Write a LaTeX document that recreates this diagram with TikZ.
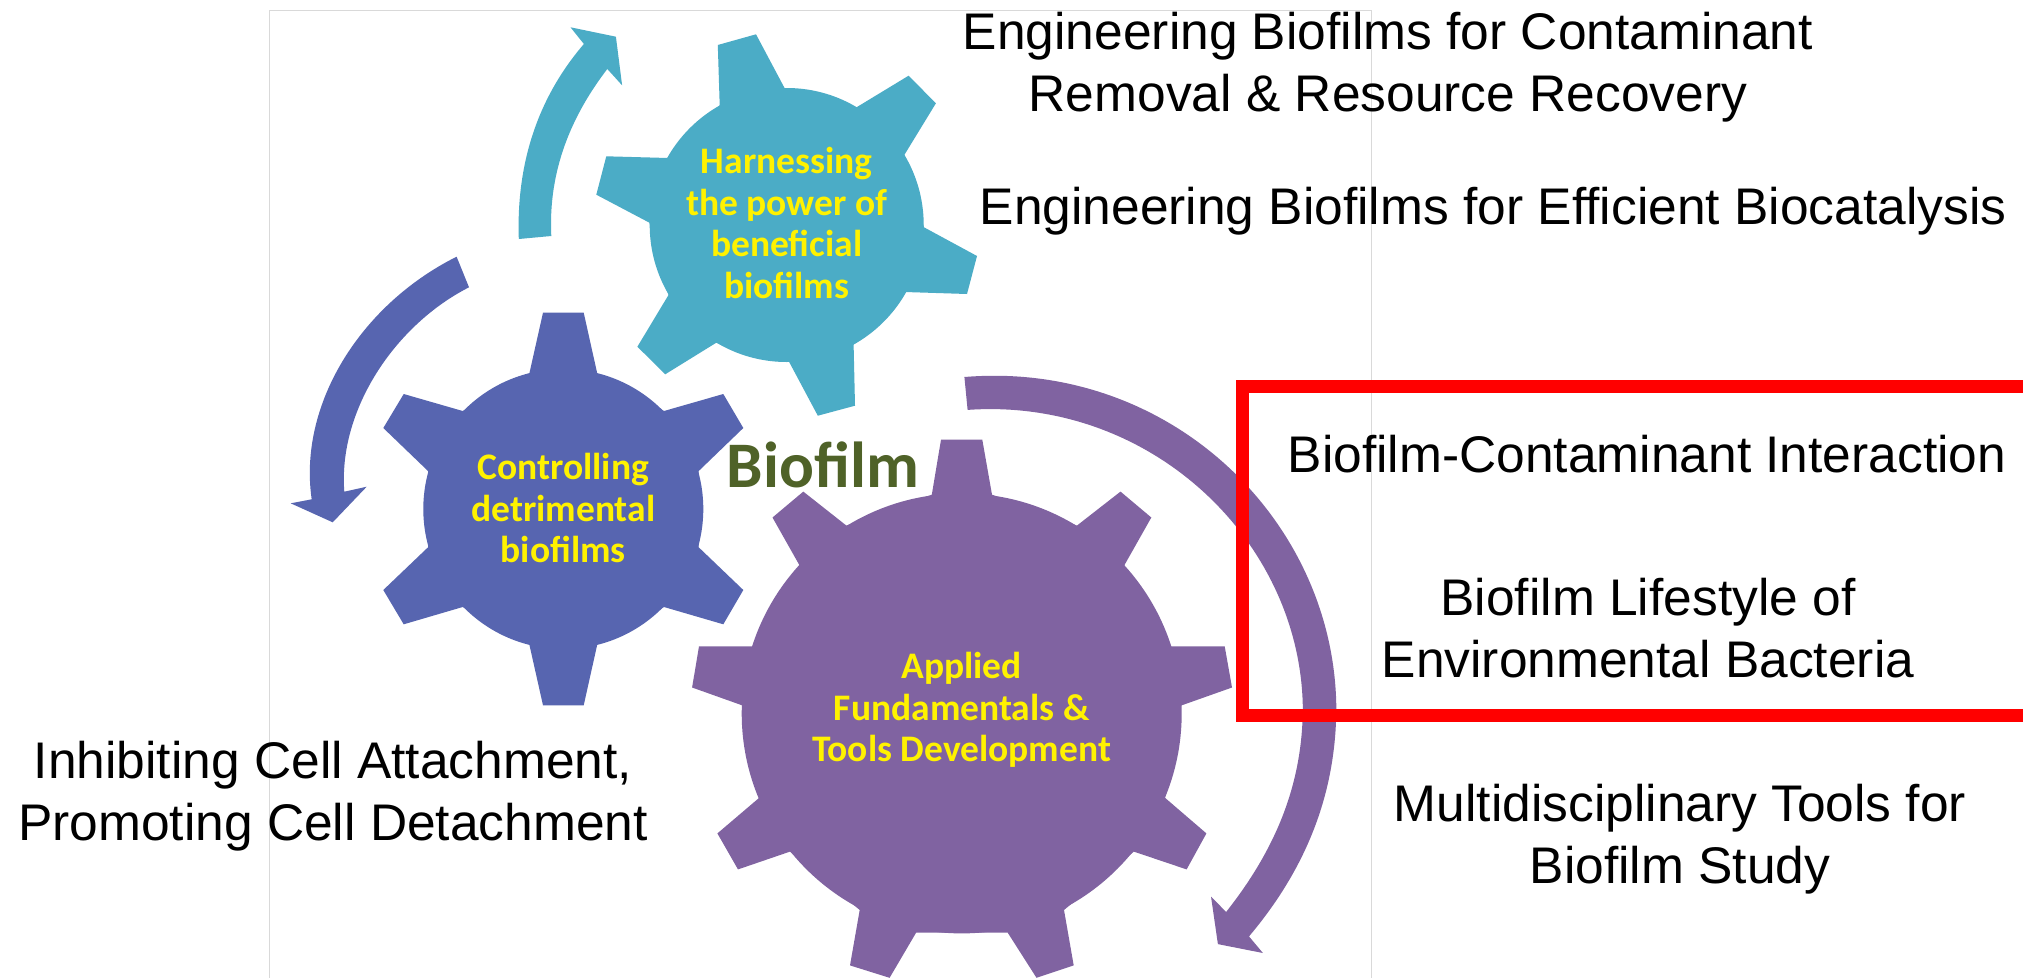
\documentclass[tikz,border=0pt]{standalone}
\usepackage{fontspec}
\setmainfont{Liberation Sans}
\newfontfamily\calibrifam{Carlito}
\definecolor{gteal}{HTML}{4BACC6}
\definecolor{gblue}{HTML}{5765B0}
\definecolor{gpurple}{HTML}{8063A1}
\definecolor{golive}{HTML}{4F6228}
\definecolor{frameline}{HTML}{D9D9D9}
\tikzset{
  bigtext/.style={text=black,align=center,inner sep=0pt,font=\fontsize{51.5}{62}\selectfont},
  geartext/.style={text=yellow,align=center,inner sep=0pt,font=\calibrifam\bfseries\fontsize{37.5}{41.5}\selectfont}
}
\begin{document}
\begin{tikzpicture}[x=1pt,y=-1pt]
\useasboundingbox (0,0) rectangle (2023,977);
\clip (0,0) rectangle (2023,977);
\fill[white] (0,0) rectangle (2023,977);
% faint frame
\draw[frameline,line width=1pt] (269,1000) -- (269,10.3) -- (1371.7,10.3) -- (1371.7,1000);
% teal gear
\fill[gteal] (786.7,225) circle[radius=137];
\fill[gteal] (717.8,45) -- (756,34.3) -- (784.7,88.3) -- (856.5,107.3) -- (908.6,75.7) -- (935.9,103.3) -- (904.3,155) -- (924,227.3) -- (977,256) -- (967,294) -- (904.8,292) -- (853.6,344.3) -- (855,405.7) -- (817.8,415.7) -- (789,361.7) -- (716.3,342.7) -- (665.2,374.3) -- (637.4,346.7) -- (668.5,295) -- (649.4,222.7) -- (596.3,194.7) -- (606.3,156.3) -- (668,158) -- (719.7,105.3) -- cycle;
% teal arrow
\fill[gteal] (518.8,239) .. controls (516,160) and (540,95) .. (583.9,44) -- (570.5,27.3) -- (615.9,36.7) -- (622.1,85.3) -- (607.3,69) .. controls (572,115) and (548,170) .. (551.3,236) -- cycle;
% blue gear
\fill[gblue] (563.3,509) circle[radius=140];
\fill[gblue] (543,312.7) -- (583.7,312.7) -- (597.3,373.7) -- (664,411) -- (723.3,394) -- (743.3,428) -- (698.7,471) -- (698.7,547.3) -- (743.3,590) -- (723.3,624.3) -- (664,607) -- (597.3,644.3) -- (583.7,705.3) -- (543,705.3) -- (529.3,644.3) -- (462.7,607) -- (403.7,624.3) -- (383.3,590) -- (428,547.3) -- (428,471) -- (383.3,428) -- (403.7,394) -- (462.7,411) -- (529.3,373.7) -- cycle;
% blue arrow
\fill[gblue] (456.6,256.7) .. controls (360,305) and (298,405) .. (311.7,499.3) -- (290.7,503.3) -- (332.7,522.3) -- (366.7,486.7) -- (344.3,491.7) .. controls (338,410) and (395,325) .. (469,287.3) -- cycle;
% purple gear
\fill[gpurple] (961.7,713.4) circle[radius=220];
\fill[gpurple] (941,439.7) -- (982.3,439.7) -- (992,494.7) -- (1076.9,525.6) -- (1120.5,491.6) -- (1151.3,517.5) -- (1124.2,565.5) -- (1169.6,646.4) -- (1224.7,646.4) -- (1232,687.5) -- (1179.8,706) -- (1165,797.8) -- (1206.4,833.4) -- (1186.6,869.4) -- (1133.8,851.6) -- (1064,910) -- (1073.7,965.4) -- (1036.5,977.8) -- (1007.6,932.5) -- (916.2,932.5) -- (889.6,977.8) -- (850,965.4) -- (859.7,910) -- (790,851.6) -- (738,869.4) -- (717.4,833.4) -- (759.2,797.8) -- (744,706) -- (692.1,687.5) -- (699,646.4) -- (754.6,646.4) -- (799.6,565.5) -- (772.5,517.5) -- (803.3,491.6) -- (846.4,525.6) -- (931.8,494.7) -- cycle;
% purple arrow
\fill[gpurple] (964.4,377) .. controls (1170,360) and (1334,520) .. (1336.3,706.8) .. controls (1336.3,795) and (1305,870) .. (1249,936.4) -- (1262.9,953) -- (1217.9,944.1) -- (1211,896.5) -- (1226.1,912) .. controls (1275,850) and (1302.8,785) .. (1302.8,706.8) .. controls (1300,540) and (1150,397) .. (967.6,409.9) -- cycle;
% red box
\draw[red,line width=13pt] (2060,386) -- (1242.2,386) -- (1242.2,715) -- (2060,715);
% gear labels
\node[geartext] (harness) at (786.7,223) {Harnessing\\the power of\\beneficial\\biofilms};
\node[geartext] (control) at (563.3,508) {Controlling\\detrimental\\biofilms};
\node[geartext] (applied) at (961.7,710) {Applied\\Fundamentals \&\\Tools Development};
\node[inner sep=0pt,text=golive,font=\calibrifam\bfseries\fontsize{65}{70}\selectfont] (biofilm) at (823,465) {Biofilm};
% outer text
\node[bigtext] (eng1) at (1388,67) {Engineering Biofilms for Contaminant\\Removal \& Resource Recovery};
\node[bigtext] (eng2) at (1493,211) {Engineering Biofilms for Efficient Biocatalysis};
\node[bigtext] (inter) at (1647,454) {Biofilm-Contaminant Interaction};
\node[bigtext] (life) at (1648,628) {Biofilm Lifestyle of\\Environmental Bacteria};
\node[bigtext] (multi) at (1680,839) {Multidisciplinary Tools for\\Biofilm Study};
\node[bigtext] (inhib) at (333,796) {Inhibiting Cell Attachment,\\Promoting Cell Detachment};
\end{tikzpicture}
\end{document}
